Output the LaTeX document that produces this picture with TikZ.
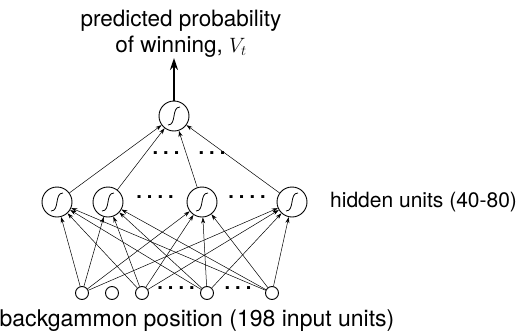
\documentclass[tikz,border=0pt]{standalone}
\usepackage{fontspec}
\setmainfont{TeX Gyre Heros}
\usetikzlibrary{arrows.meta}
\begin{document}
\begin{tikzpicture}[x=1pt,y=-1pt,
  unit/.style={circle,draw,line width=0.9pt,minimum size=30pt,inner sep=0pt},
  inp/.style={circle,draw,line width=0.9pt,minimum size=13pt,inner sep=0pt},
  conn/.style={line width=0.5pt,-{Stealth[length=6pt,width=4pt]}},
  lbl/.style={font=\fontsize{21}{24}\selectfont,inner sep=0pt},
  dots/.style={font=\fontsize{20}{22}\selectfont\bfseries,inner sep=0pt},
  sig/.pic={\draw[line width=0.8pt] (-6,9) .. controls (3,9) and (-3,-9) .. (6,-9);}
]
\useasboundingbox (0,0) rectangle (523,335);
% output
\node[unit] (o) at (174,116) {};
\pic at (o) {sig};
% hidden
\node[unit] (h1) at (57,202) {};
\node[unit] (h2) at (108,202) {};
\node[unit] (h3) at (202,202) {};
\node[unit] (h4) at (292,202) {};
\foreach \h in {h1,h2,h3,h4} {\pic at (\h) {sig};}
% inputs
\node[inp] (i1) at (82,293) {};
\node[inp] (i2) at (112,293) {};
\node[inp] (i3) at (142,293) {};
\node[inp] (i4) at (207,293) {};
\node[inp] (i5) at (272,293) {};
% dots
\node[dots] (d1) at (155,197) {.\hspace{5pt}.\hspace{5pt}.\hspace{5pt}.};
\node[dots] (d2) at (247,197) {.\hspace{5pt}.\hspace{5pt}.\hspace{5pt}.};
\node[dots] (d3) at (166,153) {.\hspace{5pt}.\hspace{5pt}.};
\node[dots] (d4) at (212,153) {.\hspace{5pt}.\hspace{5pt}.};
\node[dots] (d5) at (176,288) {.\hspace{5pt}.\hspace{5pt}.\hspace{5pt}.};
\node[dots] (d6) at (238,288) {.\hspace{5pt}.\hspace{5pt}.};
% connections input->hidden
\foreach \i in {i1,i3,i4,i5} {
  \foreach \h in {h1,h2,h3,h4} {
    \draw[conn] (\i) -- (\h);
  }
}
% hidden->output
\foreach \h in {h1,h2,h3,h4} {\draw[conn] (\h) -- (o);}
% output arrow
\coordinate (top) at (174,58);
\draw[line width=2pt,-{Stealth[length=12pt,width=8pt]}] (o) -- (top);
% labels
\node[lbl,font=\fontsize{22.5}{25}\selectfont] (t1) at (181,21) {predicted probability};
\node[lbl,font=\fontsize{22.5}{25}\selectfont] (t2) at (181,47) {of winning, $V_t$};
\node[lbl,anchor=west] (t3) at (330,202) {hidden units (40-80)};
\node[lbl,font=\fontsize{23}{26}\selectfont] (t4) at (197,321) {backgammon position (198 input units)};
\end{tikzpicture}
\end{document}
